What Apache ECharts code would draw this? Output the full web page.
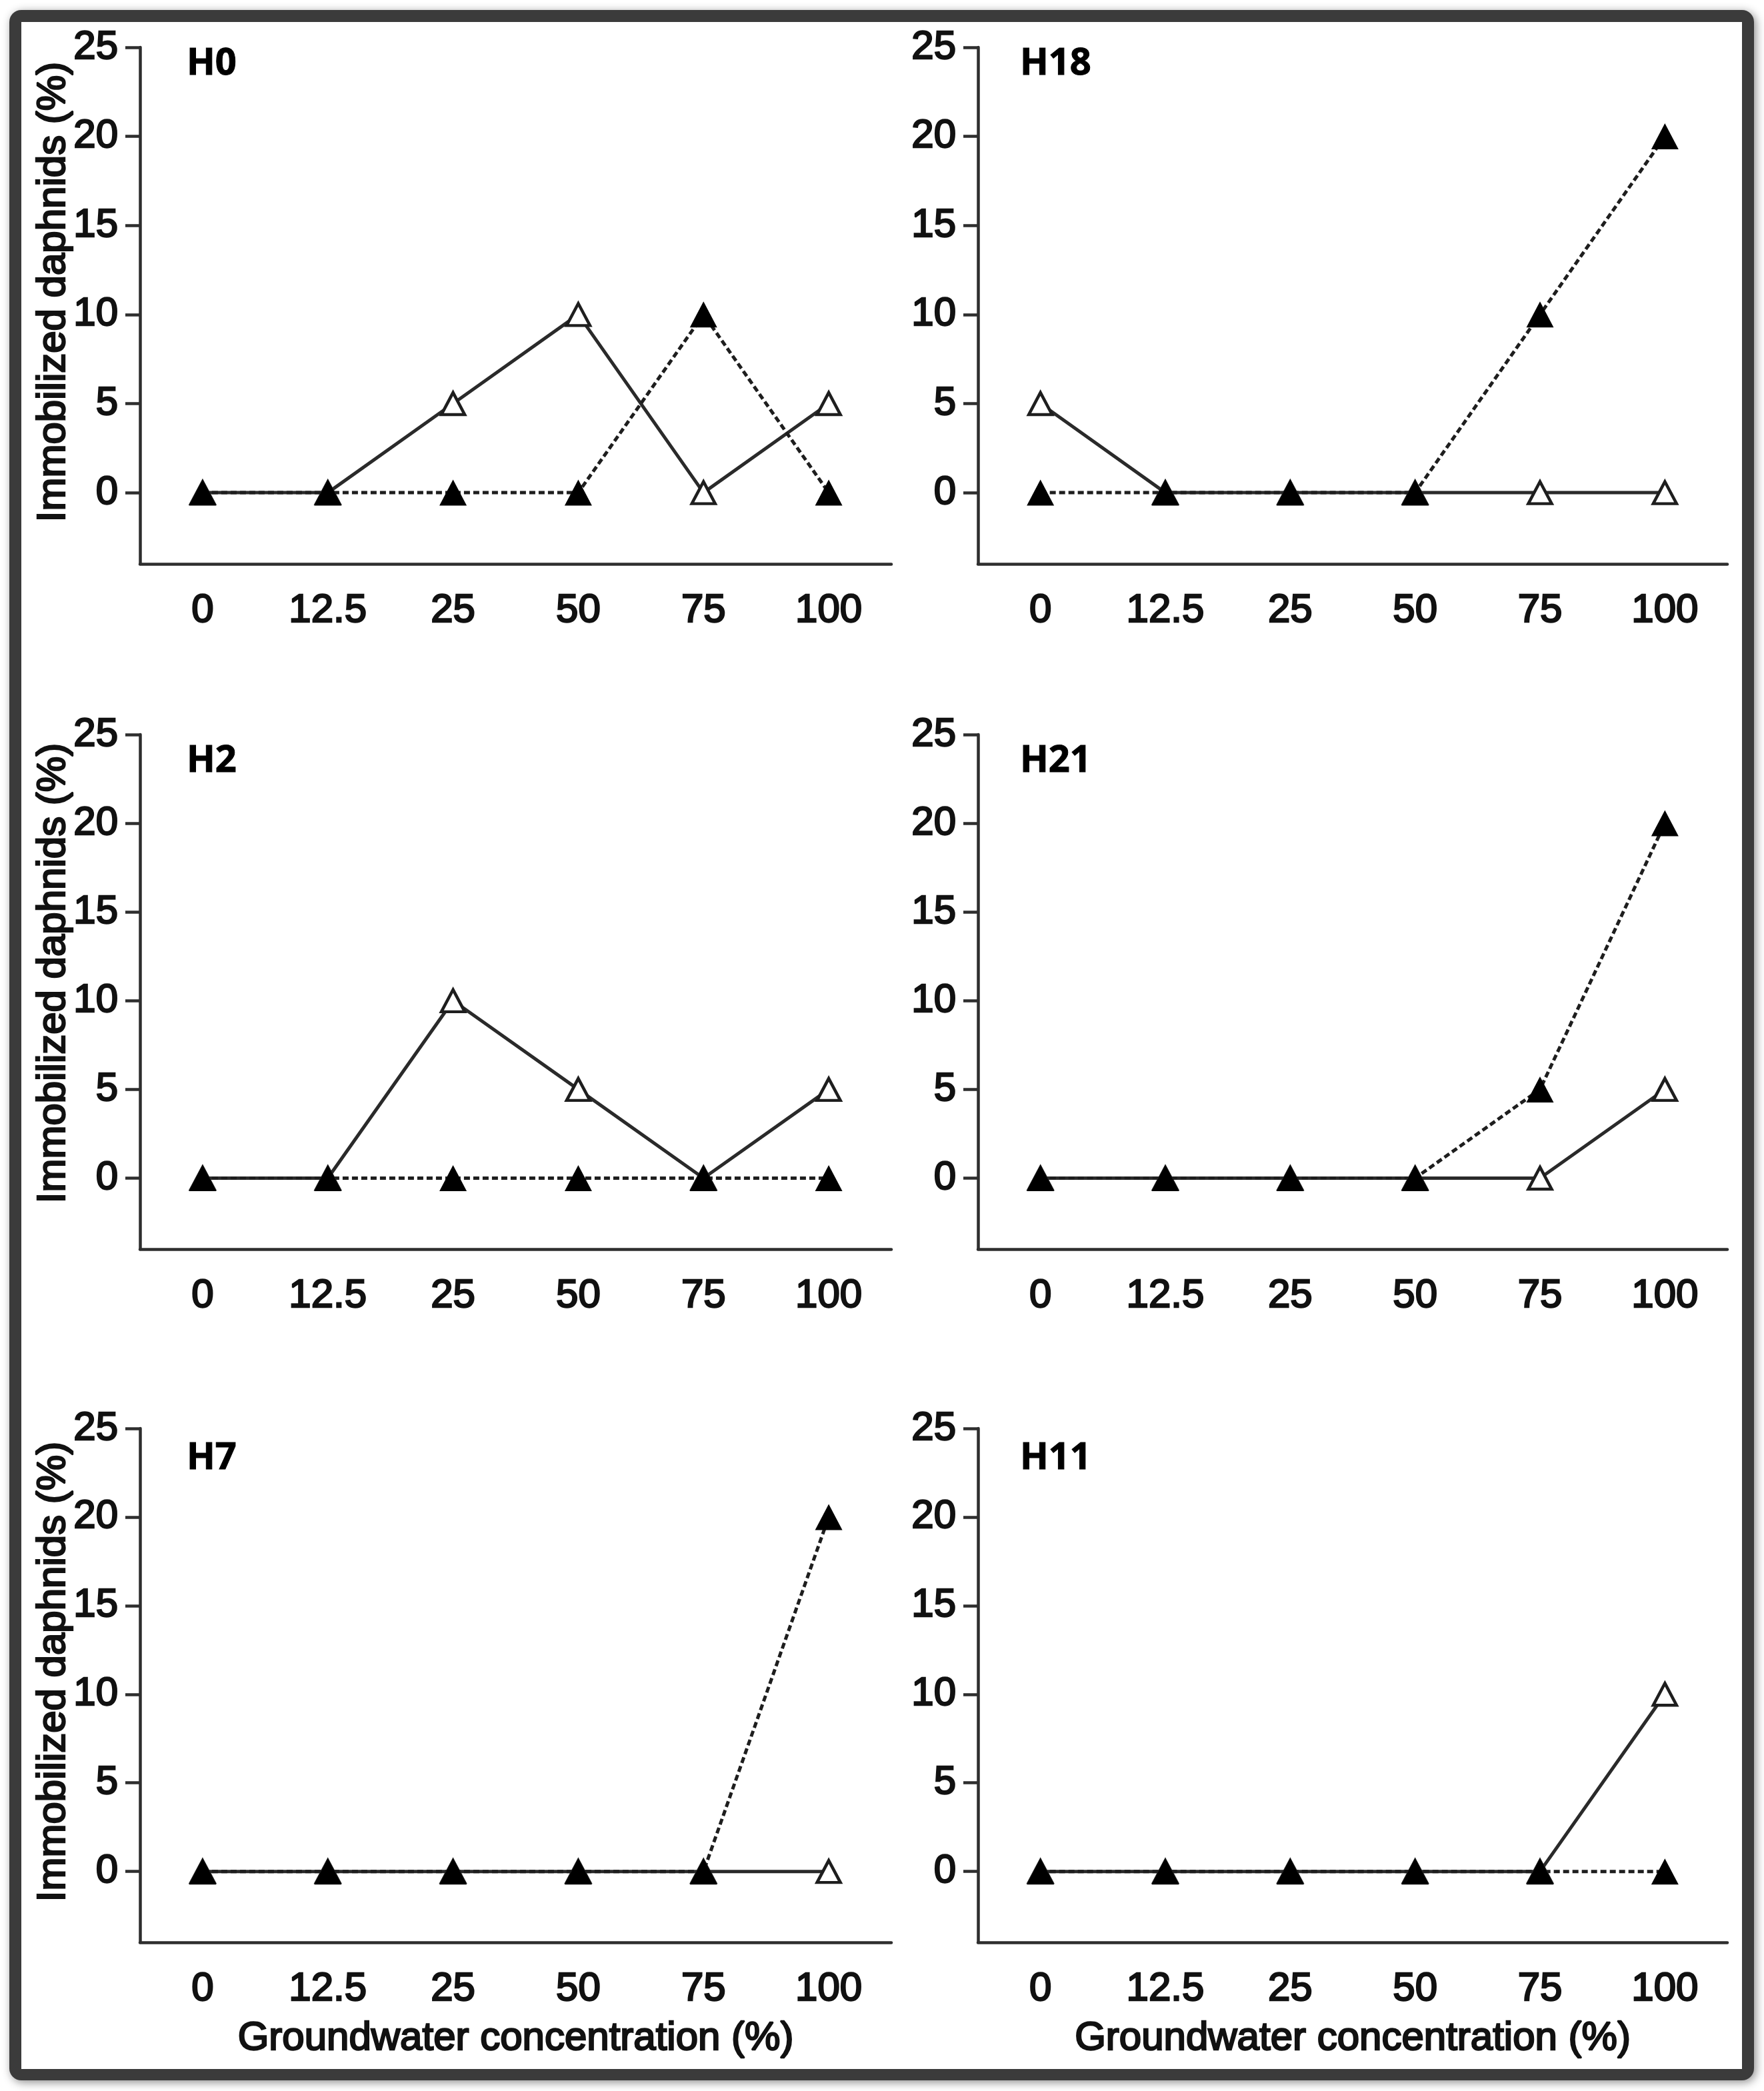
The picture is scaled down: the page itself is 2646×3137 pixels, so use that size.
<!DOCTYPE html>
<html>
<head>
<meta charset="utf-8">
<script src="https://cdn.jsdelivr.net/npm/echarts@6/dist/echarts.min.js"></script>
<style>
html, body { margin: 0; padding: 0; background: #fff; }
#chart { width: 2646px; height: 3137px; }
</style>
</head>
<body>
<div id="chart"></div>
<script>
const concentrations = ['0', '12.5', '25', '50', '75', '100'];
const yTicks = [0, 5, 10, 15, 20, 25];
const panelNames = ['H0', 'H2', 'H7', 'H18', 'H21', 'H11'];

// open triangles (solid line) / filled triangles (dashed line)
const h0Open = [0, 0, 5, 10, 0, 5];
const h0Filled = [0, 0, 0, 0, 10, 0];
const h2Open = [0, 0, 10, 5, 0, 5];
const h2Filled = [0, 0, 0, 0, 0, 0];
const h7Open = [0, 0, 0, 0, 0, 0];
const h7Filled = [0, 0, 0, 0, 0, 20];
const h18Open = [5, 0, 0, 0, 0, 0];
const h18Filled = [0, 0, 0, 0, 10, 20];
const h21Open = [0, 0, 0, 0, 0, 5];
const h21Filled = [0, 0, 0, 0, 5, 20];
const h11Open = [0, 0, 0, 0, 0, 10];
const h11Filled = [0, 0, 0, 0, 0, 0];

const openData = [h0Open, h2Open, h7Open, h18Open, h21Open, h11Open];
const filledData = [h0Filled, h2Filled, h7Filled, h18Filled, h21Filled, h11Filled];

const yTitle = 'Immobilized daphnids (%)';
const xTitle = 'Groundwater concentration (%)';

// layout (px)
const colLeft = [210, 1467];
const colWidth = [1127, 1124];
const rowTop = [71, 1102, 2143];
const rowHeight = [775, 772, 771];
const nameTop = [68, 1114, 2160];
const nameLeft = [280, 1530];
const yTitleCenter = [438, 1460, 2508];

const axisColor = '#2e2e2e';
const textColor = '#111';
const font = '"Liberation Sans", Arial, sans-serif';

// base text look, a bit heavier than plain regular weight
let textLook = {
    fontFamily: font,
    fontSize: 60,
    lineHeight: 60,
    color: textColor,
    textBorderColor: textColor,
    textBorderWidth: 2.4
};

let myChart = echarts.init(document.getElementById('chart'));

let option = {
    backgroundColor: '#fff',
    animation: false,
    title: [],
    grid: [],
    xAxis: [],
    yAxis: [],
    series: [],
    graphic: []
};

for (let i = 0; i < 6; i++) {
    let col = i < 3 ? 0 : 1;
    let row = i % 3;
    option.grid.push({
        left: colLeft[col],
        top: rowTop[row],
        width: colWidth[col],
        height: rowHeight[row]
    });
    option.title.push({
        text: panelNames[i],
        left: nameLeft[col],
        top: nameTop[row],
        padding: 0,
        textStyle: {
            fontFamily: 'Noto Sans',
            fontWeight: 'bold',
            fontSize: 56,
            lineHeight: 56,
            color: '#000',
            textBorderColor: '#000',
            textBorderWidth: 1
        }
    });
    option.xAxis.push({
        gridIndex: i,
        type: 'category',
        data: concentrations,
        boundaryGap: true,
        name: row === 2 ? xTitle : '',
        nameLocation: 'middle',
        nameGap: 114,
        nameTextStyle: Object.assign({}, textLook),
        axisLine: {onZero: false, lineStyle: {color: axisColor, width: 4.5}},
        axisTick: {alignWithLabel: true, length: 24, lineStyle: {color: axisColor, width: 4.5}},
        axisLabel: Object.assign({margin: 40}, textLook),
        splitLine: {show: false}
    });
    option.yAxis.push({
        gridIndex: i,
        type: 'value',
        min: -4,
        max: 25,
        axisLine: {show: true, lineStyle: {color: axisColor, width: 4.5}},
        axisTick: {show: true, length: 22, customValues: yTicks, lineStyle: {color: axisColor, width: 4.5}},
        axisLabel: Object.assign({margin: 33, customValues: yTicks}, textLook),
        splitLine: {show: false}
    });
    option.series.push({
        type: 'line',
        xAxisIndex: i,
        yAxisIndex: i,
        data: openData[i],
        symbol: 'triangle',
        symbolSize: [35, 33],
        lineStyle: {color: '#2a2a2a', width: 5, type: 'solid'},
        itemStyle: {color: '#fff', borderColor: '#1e1e1e', borderWidth: 4.5}
    });
    option.series.push({
        type: 'line',
        xAxisIndex: i,
        yAxisIndex: i,
        data: filledData[i],
        symbol: 'triangle',
        symbolSize: [41, 39],
        lineStyle: {color: '#1e1e1e', width: 5, type: [9, 5]},
        itemStyle: {color: '#000', borderWidth: 0}
    });
}

// dark frame round the figure
option.graphic.push({
    type: 'rect',
    z: -10,
    shape: {x: 14, y: 15, width: 2617, height: 3106, r: 18},
    style: {fill: '#3b3b3b', shadowBlur: 14, shadowColor: 'rgba(0,0,0,0.45)', shadowOffsetX: 3, shadowOffsetY: 3}
});
option.graphic.push({
    type: 'rect',
    z: -9,
    shape: {x: 32, y: 33, width: 2581, height: 3071},
    style: {fill: '#fff'}
});

// y titles on left column
for (let r = 0; r < 3; r++) {
    option.graphic.push({
        type: 'text',
        x: 80,
        y: yTitleCenter[r],
        rotation: Math.PI / 2,
        style: {
            text: yTitle,
            fontFamily: font,
            fontSize: 60,
            fill: textColor,
            stroke: textColor,
            lineWidth: 2.4,
            align: 'center',
            verticalAlign: 'middle',
            textAlign: 'center',
            textVerticalAlign: 'middle'
        }
    });
}

myChart.setOption(option);
</script>
</body>
</html>
